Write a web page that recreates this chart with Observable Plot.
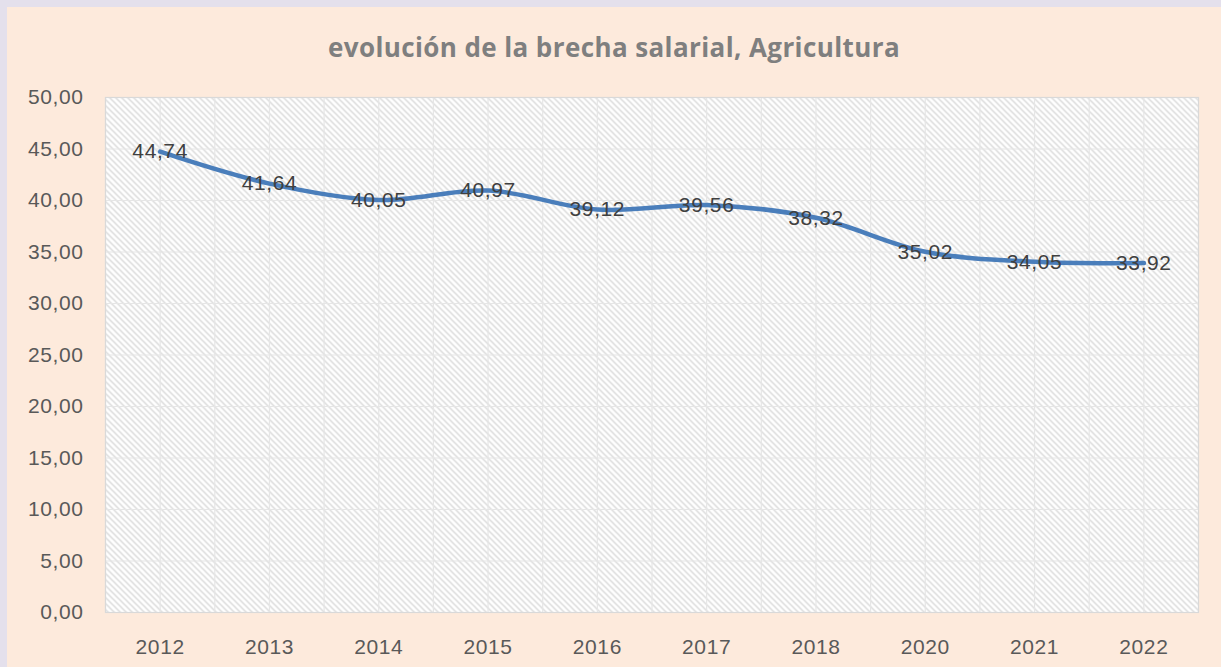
<!DOCTYPE html>
<html>
<head>
<meta charset="utf-8">
<script src="https://cdn.jsdelivr.net/npm/d3@7"></script>
<script src="https://cdn.jsdelivr.net/npm/@observablehq/plot@0.6"></script>
<style>
  html, body { margin: 0; padding: 0; background: #e4e0ec; }
  #wrap { position: absolute; left: 7px; top: 7px; width: 1214px; height: 660px; background: #fdeadc; overflow: hidden; }
  #title { height: 60px; line-height: 80px; text-align: center; font-family: "Open Sans", sans-serif; font-weight: 700; font-size: 26px; letter-spacing: 0.4px; color: #7f7f7f; overflow: visible; }
  svg { display: block; }
  #chart svg text { letter-spacing: 0.6px; }
</style>
</head>
<body>
<div id="wrap">
  <div id="title">evolución de la brecha salarial, Agricultura</div>
  <div id="chart"></div>
</div>
<script>
const years = ["2012", "2013", "2014", "2015", "2016", "2017", "2018", "2020", "2021", "2022"];
const values = [44.74, 41.64, 40.05, 40.97, 39.12, 39.56, 38.32, 35.02, 34.05, 33.92];
const yTicks = [0, 5, 10, 15, 20, 25, 30, 35, 40, 45, 50];

const data = years.map((y, i) => ({i, year: y, value: values[i]}));
const fmt = v => v.toFixed(2).replace(".", ",");
const halfGrid = d3.range(-0.5, years.length, 0.5);

const defs = () => {
  const s = d3.create("svg:defs");
  const p = s.append("pattern").attr("id", "hatch").attr("patternUnits", "userSpaceOnUse")
    .attr("width", 6).attr("height", 6);
  p.append("rect").attr("width", 6).attr("height", 6).attr("fill", "#ffffff");
  p.append("path").attr("d", "M-1,-1 L7,7 M-1,5 L1,7 M5,-1 L7,1")
    .attr("stroke", "#d6d6d6").attr("stroke-width", 1.3);
  return s.node();
};

const chart = Plot.plot({
  width: 1214,
  height: 600,
  marginLeft: 98,
  marginRight: 23,
  marginTop: 30,
  marginBottom: 55,
  style: {background: "transparent", fontFamily: "'Liberation Sans', Arial, sans-serif", fontSize: "21px", color: "#595959", overflow: "visible"},
  x: {domain: [-0.5, years.length - 0.5], label: null},
  y: {domain: [0, 50], label: null},
  marks: [
    defs,
    Plot.frame({fill: "url(#hatch)", stroke: null}),
    Plot.gridY(yTicks, {stroke: "#e6e6e6", strokeOpacity: 1, strokeWidth: 1.2}),
    Plot.gridX(halfGrid, {stroke: "#e6e6e6", strokeOpacity: 1, strokeWidth: 1.2}),
    Plot.frame({stroke: "#d9d9d9", strokeWidth: 1.2}),
    Plot.axisY({ticks: yTicks, tickFormat: fmt, tickSize: 0, tickPadding: 22, fill: "#595959", fontSize: 21}),
    Plot.axisX({ticks: d3.range(years.length), tickFormat: i => years[i], tickSize: 0, tickPadding: 27, fill: "#595959", fontSize: 21}),
    Plot.line(data, {x: "i", y: "value", stroke: "#4a7ebb", strokeWidth: 4.5, curve: "catmull-rom"}),
    Plot.text(data, {x: "i", y: "value", text: d => fmt(d.value), fill: "#404040", fontSize: 21})
  ]
});
document.getElementById("chart").appendChild(chart);
</script>
</body>
</html>
